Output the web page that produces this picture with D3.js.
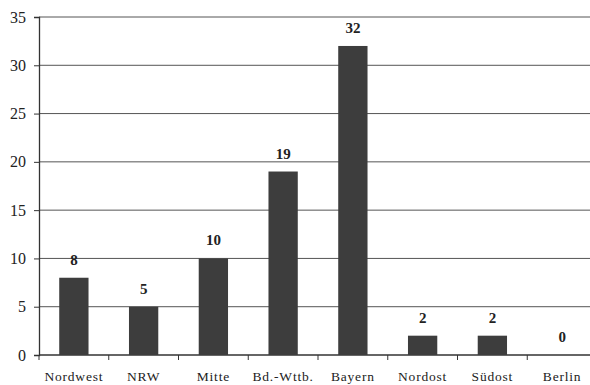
<!DOCTYPE html>
<html>
<head>
<meta charset="utf-8">
<script src="https://cdn.jsdelivr.net/npm/d3@7"></script>
<style>
  html, body { margin: 0; padding: 0; background: #fff; }
  svg { display: block; }
  text { font-family: "Liberation Serif", "Times New Roman", serif; fill: #222; }
</style>
</head>
<body>
<svg id="chart" width="590" height="385"></svg>
<script>
// Regions and number of cases per region
const regions = ["Nordwest", "NRW", "Mitte", "Bd.-Wttb.", "Bayern", "Nordost", "Südost", "Berlin"];
const counts = [8, 5, 10, 19, 32, 2, 2, 0];
const yTicks = [0, 5, 10, 15, 20, 25, 30, 35];

const svg = d3.select("#chart");
const margin = { left: 39, top: 17, right: -7, bottom: 30 };
const width = 590 - margin.left - margin.right;
const height = 385 - margin.top - margin.bottom;

const g = svg.append("g").attr("transform", `translate(${margin.left},${margin.top})`);

const x = d3.scaleBand().domain(regions).range([0, width]).paddingInner(0.58).paddingOuter(0.29);
const y = d3.scaleLinear().domain([0, 35]).range([height, 0]);

// Horizontal gridlines
g.append("g")
  .selectAll("line")
  .data(yTicks.filter(d => d > 0))
  .join("line")
  .attr("x1", 0).attr("x2", width)
  .attr("y1", d => y(d)).attr("y2", d => y(d))
  .attr("stroke", "#555").attr("stroke-width", 1);

// Y axis
const yAxis = g.append("g")
  .call(d3.axisLeft(y).tickValues(yTicks).tickSize(5).tickPadding(8));
yAxis.select(".domain").attr("stroke", "#333").attr("stroke-width", 1.3);
yAxis.selectAll(".tick line").attr("stroke", "#333");
yAxis.selectAll(".tick text")
  .style("font-family", "Liberation Serif, serif")
  .style("font-size", "16px").attr("fill", "#222");

// X axis with ticks between categories
const step = x.step();
const xAxisG = g.append("g").attr("transform", `translate(0,${height})`);
xAxisG.append("line")
  .attr("x1", 0).attr("x2", width)
  .attr("stroke", "#333").attr("stroke-width", 1.3);
xAxisG.selectAll("line.tk")
  .data(d3.range(regions.length + 1))
  .join("line")
  .attr("class", "tk")
  .attr("x1", i => i * step).attr("x2", i => i * step)
  .attr("y1", 0).attr("y2", 5)
  .attr("stroke", "#333");
xAxisG.selectAll("text")
  .data(regions)
  .join("text")
  .attr("x", d => x(d) + x.bandwidth() / 2)
  .attr("y", 26)
  .attr("text-anchor", "middle")
  .style("font-size", "13.5px")
  .style("letter-spacing", "0.8px")
  .text(d => d);

// Bars
const data = regions.map((r, i) => ({ region: r, value: counts[i] }));
g.append("g")
  .selectAll("rect")
  .data(data)
  .join("rect")
  .attr("x", d => x(d.region))
  .attr("y", d => y(d.value))
  .attr("width", x.bandwidth())
  .attr("height", d => height - y(d.value))
  .attr("fill", "#3d3d3d");

// Value labels
g.append("g")
  .selectAll("text")
  .data(data)
  .join("text")
  .attr("x", d => x(d.region) + x.bandwidth() / 2)
  .attr("y", d => y(d.value) - 13)
  .attr("text-anchor", "middle")
  .style("font-size", "15px")
  .style("font-weight", "bold")
  .text(d => d.value);
</script>
</body>
</html>
